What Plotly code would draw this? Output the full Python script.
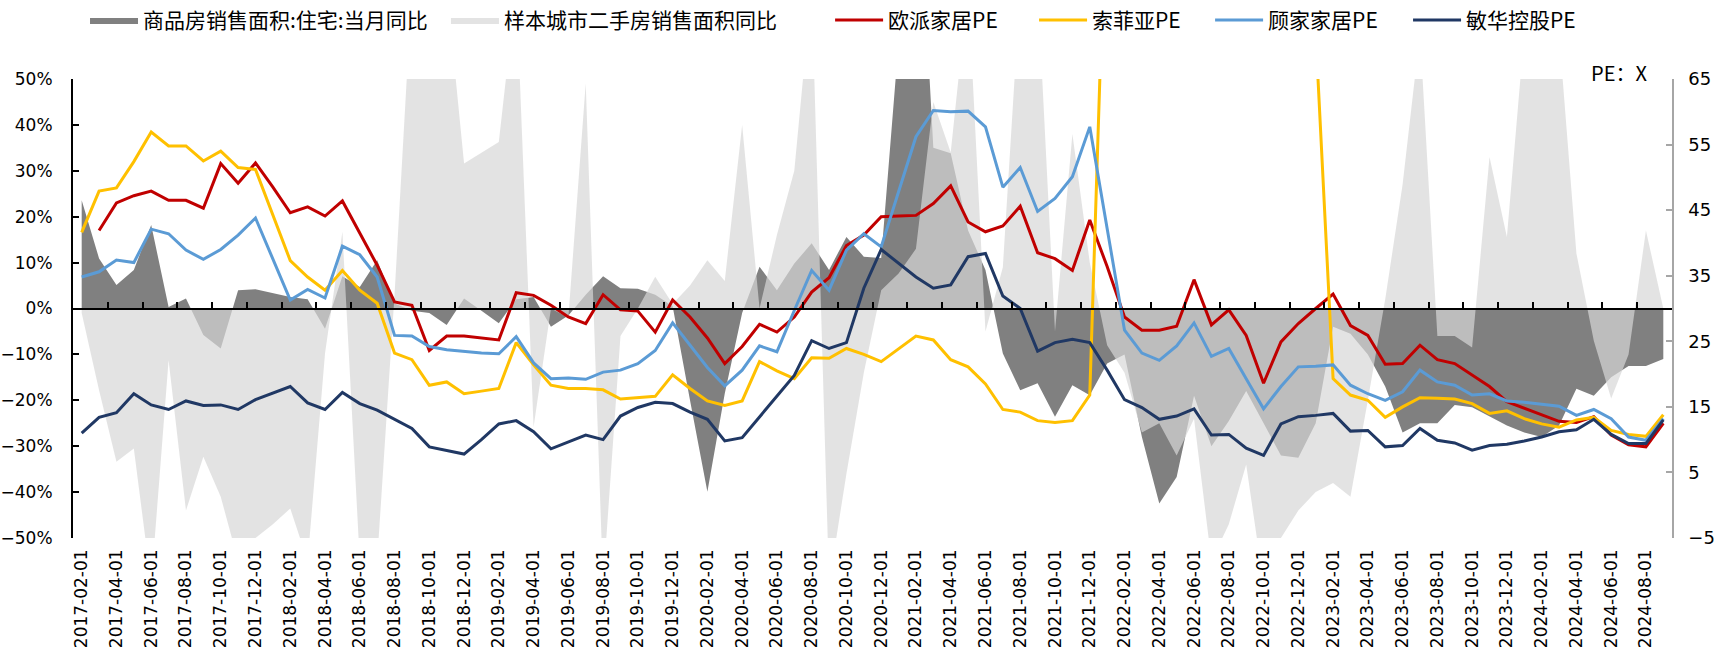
import pandas as pd
import plotly.graph_objects as go

months = [d.strftime("%Y-%m-%d") for d in pd.date_range("2017-02-01", "2024-09-01", freq="MS")]

new_home_yoy = [23.6, 10.9, 5.1, 8.4, 18.2, 0.3, 2.2, -5.8, -8.7, 4.0, 4.2, 3.3, 2.5, 2.0, -4.4, 7.0,
                4.7, 10.5, 1.1, -0.5, -1.0, -3.6, 2.2, -0.5, -3.2, 2.0, 2.5, -4.0, -1.5, 3.0, 7.0, 4.4,
                4.3, 3.0, 0.5, -20.0, -39.9, -18.5, -1.0, 9.1, 4.0, 9.8, 14.2, 8.4, 15.6, 11.3, 11.0, 58.0,
                105.0, 35.0, 33.8, 17.0, 8.4, -9.8, -17.8, -16.3, -23.6, -16.7, -18.9, -12.0, -10.0, -28.0,
                -42.5, -36.7, -19.0, -30.0, -24.5, -18.0, -25.0, -32.0, -32.5, -25.0, -4.0, -5.5, -10.0,
                -17.0, -27.0, -25.0, -25.0, -21.0, -21.5, -23.5, -25.5, -27.0, -28.0, -25.5, -17.5, -19.0,
                -15.0, -12.5, -12.5, -11.0]

second_hand_yoy = [-1, -17.8, -33.4, -30.5, -60, -11.3, -44, -32.3, -41, -55, -50, -47, -43.6, -55, -9.8,
                   16.7, -55, -55, 3, 70, 70, 70, 31.6, 34, 36.3, 70, -25.8, 0, -2, 49, -60, -6, 0, 6.9,
                   1, 5, 10.5, 6, 40, 0, 16, 30, 70, -60, -36, -14, 4, 7.6, 13, 45, 34, 70, -5, 9, 70, 70,
                   -5, 38, 10, -8, -14, -27, -25, -32, -24, -55, -47, -34, -60, -50, -44, -40, -38, -41,
                   -20, 2, 27, 60, -6, -6, -8.5, 33, 15.6, 60, 60, 60, 12, -7, -19.6, -10, 17, 0]

oppein_pe = [None, 41.9, 46.1, 47.2, 47.9, 46.5, 46.5, 45.3, 52.1, 49.1, 52.2, 48.5, 44.6, 45.5, 44.1, 46.4,
             41.4, 36.6, 31.0, 30.5, 23.6, 25.8, 25.8, 25.5, 25.2, 32.4, 32.0, 30.5, 28.7, 27.7, 32.1,
             29.8, 29.6, 26.4, 31.3, 28.7, 25.5, 21.6, 24.2, 27.6, 26.4, 28.7, 32.5, 34.7, 39.6, 41.2,
             44.0, 44.1, 44.2, 46.0, 48.7, 43.2, 41.7, 42.6, 45.6, 38.5, 37.6, 35.8, 43.5, 36.4, 28.7,
             26.7, 26.7, 27.3, 34.4, 27.5, 29.8, 25.9, 18.6, 24.9, 27.7, 30.0, 32.2, 27.4, 25.9, 21.5,
             21.6, 24.4, 22.2, 21.6, 19.8, 18.1, 15.8, 14.8, 13.8, 12.8, 12.6, 13.5, 10.7, 9.2, 8.9, 12.5]

sofia_pe = [41.6, 47.9, 48.4, 52.4, 56.9, 54.8, 54.8, 52.5, 54.0, 51.5, 51.2, 44.2, 37.3, 34.8, 32.8, 35.8,
            32.8, 30.8, 23.2, 22.2, 18.3, 18.8, 17.0, 17.4, 17.8, 24.8, 21.4, 18.3, 17.8, 17.8, 17.6,
            16.2, 16.4, 16.6, 19.9, 17.8, 15.9, 15.2, 15.9, 21.9, 20.5, 19.3, 22.5, 22.4, 23.9, 23.0,
            21.9, 23.9, 25.8, 25.2, 22.2, 21.1, 18.5, 14.6, 14.2, 12.9, 12.6, 12.9, 16.8, 100, 250,
            300, 350, 320, 400, 380, 300, 260, 200, 180, 150, 72, 19.3, 16.8, 16.0, 13.4, 15.0, 16.4,
            16.3, 16.2, 15.5, 14.0, 14.4, 13.2, 12.4, 11.9, 13.0, 13.4, 11.4, 10.8, 10.5, 13.8]

kuka_pe = [34.8, 35.6, 37.4, 37.0, 42.1, 41.4, 38.9, 37.5, 39.0, 41.2, 43.8, 37.6, 31.3, 32.9, 31.6, 39.5,
           38.2, 34.8, 25.9, 25.8, 24.2, 23.7, 23.4, 23.2, 23.1, 25.7, 21.7, 19.3, 19.4, 19.2, 20.3,
           20.6, 21.6, 23.6, 27.8, 24.4, 21.0, 18.2, 20.6, 24.3, 23.4, 29.7, 35.8, 32.8, 38.9, 41.4,
           39.4, 47.8, 56.2, 60.2, 60.0, 60.1, 57.7, 48.5, 51.5, 44.8, 46.8, 50.1, 57.7, 42.2, 26.7,
           23.2, 22.1, 24.3, 27.8, 22.7, 23.9, 19.3, 14.7, 18.1, 21.1, 21.2, 21.4, 18.3, 17.0, 16.0,
           17.3, 20.6, 18.8, 18.3, 16.8, 17.0, 15.9, 15.7, 15.4, 15.1, 13.7, 14.6, 13.2, 10.4, 9.9, 13.2]

manwah_pe = [11.0, 13.4, 14.1, 17.0, 15.3, 14.6, 15.9, 15.2, 15.3, 14.6, 16.1, 17.1, 18.1, 15.6, 14.6, 17.2,
             15.5, 14.5, 13.1, 11.7, 8.9, 8.3, 7.8, 10.0, 12.4, 12.9, 11.2, 8.6, 9.7, 10.7, 10.0, 13.6,
             14.9, 15.7, 15.5, 14.2, 13.1, 9.8, 10.3, 13.5, 16.6, 19.8, 25.1, 23.9, 24.8, 33.1, 39.0,
             36.9, 34.8, 33.1, 33.6, 37.9, 38.4, 31.9, 30.0, 23.5, 24.8, 25.3, 24.8, 20.6, 16.1, 14.9,
             13.1, 13.6, 14.7, 10.7, 10.8, 8.7, 7.6, 12.4, 13.5, 13.7, 14.0, 11.3, 11.4, 8.9, 9.1, 11.7,
             9.9, 9.5, 8.4, 9.1, 9.3, 9.8, 10.4, 11.2, 11.5, 13.1, 10.8, 9.4, 9.4, 13.0]

FONT = "DejaVu Sans, Noto Sans CJK SC, sans-serif"
CJK = "Noto Sans CJK SC, sans-serif"

# legend left edges (container fraction), one legend per series
legend_x = [0.0496, 0.2602, 0.4843, 0.6033, 0.7060, 0.8215]
legend_ids = ["legend", "legend2", "legend3", "legend4", "legend5", "legend6"]

fig = go.Figure()
fig.add_trace(go.Scatter(x=months, y=new_home_yoy, name="商品房销售面积:住宅:当月同比",
                         mode="lines", line=dict(width=0, color="#808080"),
                         fill="tozeroy", fillcolor="#808080", xaxis="x", yaxis="y",
                         legend=legend_ids[0]))
fig.add_trace(go.Scatter(x=months, y=second_hand_yoy, name="样本城市二手房销售面积同比",
                         mode="lines", line=dict(width=0, color="rgba(215,215,215,0.7)"),
                         fill="tozeroy", fillcolor="rgba(215,215,215,0.7)", xaxis="x", yaxis="y",
                         legend=legend_ids[1]))
for k, (name, vals, col) in enumerate([("欧派家居PE", oppein_pe, "#C00000"),
                                       ("索菲亚PE", sofia_pe, "#FFC000"),
                                       ("顾家家居PE", kuka_pe, "#5B9BD5"),
                                       ("敏华控股PE", manwah_pe, "#203864")]):
    fig.add_trace(go.Scatter(x=months, y=vals, name=name, mode="lines",
                             line=dict(width=3, color=col), xaxis="x2", yaxis="y2",
                             legend=legend_ids[k + 2]))

legends = {}
for lid, lx in zip(legend_ids, legend_x):
    legends[lid] = dict(orientation="h", xref="container", yref="container",
                        x=lx, xanchor="left", y=0.969, yanchor="middle",
                        font=dict(family=CJK, size=21, color="black"), itemwidth=48,
                        bgcolor="rgba(0,0,0,0)")

fig.update_layout(
    width=1714, height=653,
    margin=dict(l=73, r=42, t=79, b=115, autoexpand=False),
    paper_bgcolor="white", plot_bgcolor="white",
    font=dict(family=FONT, size=18, color="black"),
    showlegend=True,
    **legends,
    xaxis=dict(type="category", categoryorder="array", categoryarray=months,
               range=[-0.5, len(months) - 0.5], anchor="free", position=0.5,
               showline=True, linecolor="black", linewidth=2,
               ticks="inside", ticklen=6, tickwidth=1.5, tickcolor="black",
               tickson="boundaries", tickmode="linear", tick0=0, dtick=2,
               showticklabels=False, showgrid=False, zeroline=False, automargin=False),
    xaxis2=dict(type="category", categoryorder="array", categoryarray=months,
                range=[-0.5, len(months) - 0.5], overlaying="x", anchor="free", position=0,
                side="bottom", tickvals=months[::2], tickangle=-90, ticks="",
                ticklabelstandoff=7, tickfont=dict(size=17),
                showline=False, showgrid=False, zeroline=False, automargin=False),
    yaxis=dict(range=[-50, 50], dtick=10, ticksuffix="%", anchor="x",
               showline=True, linecolor="black", linewidth=2,
               ticks="inside", ticklen=6, tickwidth=1.5, tickcolor="black",
               ticklabelstandoff=15, tickfont=dict(size=17),
               showgrid=False, zeroline=False, automargin=False),
    yaxis2=dict(range=[-5, 65], tick0=-5, dtick=10, overlaying="y", side="right",
                anchor="x2", showline=True, linecolor="#a6a6a6", linewidth=1.5,
                ticks="inside", ticklen=6, tickwidth=1.5, tickcolor="#a6a6a6",
                ticklabelstandoff=11, showgrid=False, zeroline=False, automargin=False),
    annotations=[dict(text="PE：X", xref="paper", yref="paper", x=0.967, y=1.014,
                      xanchor="center", yanchor="middle", showarrow=False,
                      font=dict(family=CJK, size=20, color="black"))],
)

fig.write_html("out.html", config={"displayModeBar": False},
               post_script="document.body.style.margin='0';document.body.style.overflow='hidden';")
